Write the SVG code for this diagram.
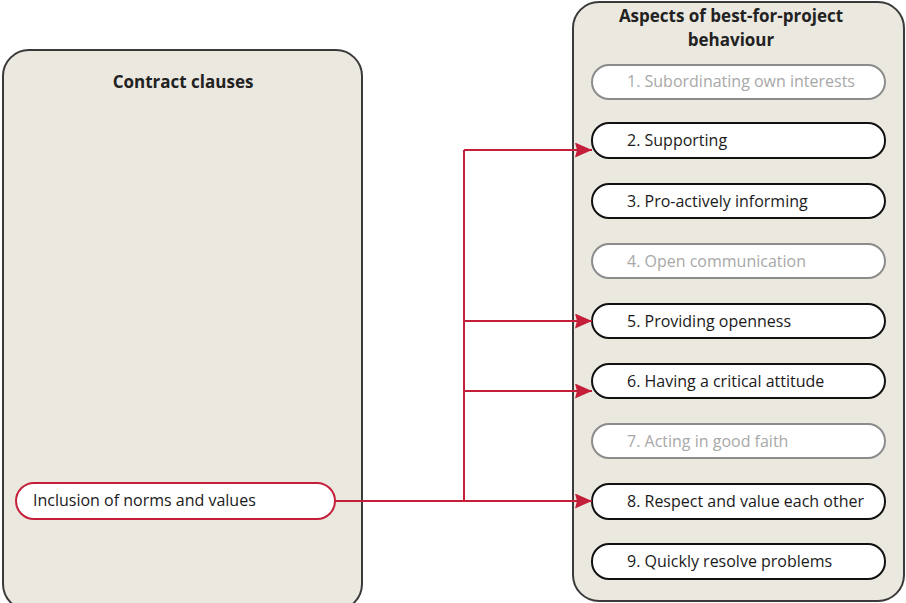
<svg xmlns="http://www.w3.org/2000/svg" width="906" height="603" viewBox="0 0 906 603">
<style>
.panel{fill:#ebe8e0;stroke:#3a3a3a;stroke-width:2}
.item{fill:#fff;stroke:#111;stroke-width:2}
.dim{fill:#fff;stroke:#8c8c8c;stroke-width:2}
.src{fill:#fff;stroke:#c41e3a;stroke-width:2}
.t{font-family:"Open Sans","Liberation Sans",sans-serif;font-size:16px;fill:#1a1a1a;dominant-baseline:central}
.tg{fill:#a8a8a8}
.h{font-family:"Open Sans","Liberation Sans",sans-serif;font-size:17px;font-weight:bold;fill:#222;text-anchor:middle}
.c{fill:none;stroke:#c41e3a;stroke-width:2}
</style>
<defs>
<marker id="ah" viewBox="0 0 17 15" refX="17" refY="7.5" markerWidth="17" markerHeight="15" markerUnits="userSpaceOnUse" orient="auto">
<path d="M0,0 L17,7.5 L0,15 L2,7.5 Z" fill="#c41e3a"/>
</marker>
</defs>
<g id="contract-clauses">
<rect class="panel" x="3" y="50" width="359" height="560" rx="26"/>
<text class="h" x="183" y="88">Contract clauses</text>
</g>
<g id="aspects">
<rect class="panel" x="573" y="2" width="331" height="599" rx="26"/>
<text class="h" x="731" y="22">Aspects of best-for-project</text>
<text class="h" x="731" y="46">behaviour</text>
</g>
<g id="inclusion">
<rect class="src" x="16" y="483" width="319" height="36" rx="18"/>
<text class="t" x="33" y="500">Inclusion of norms and values</text>
</g>
<g id="a1"><rect class="dim" x="592" y="65" width="293" height="34" rx="17"/><text class="t tg" x="627" y="81">1. Subordinating own interests</text></g>
<g id="a2"><rect class="item" x="592" y="123" width="293" height="35" rx="17"/><text class="t" x="627" y="140">2. Supporting</text></g>
<g id="a3"><rect class="item" x="592" y="184" width="293" height="34" rx="17"/><text class="t" x="627" y="201">3. Pro-actively informing</text></g>
<g id="a4"><rect class="dim" x="592" y="244" width="293" height="34" rx="17"/><text class="t tg" x="627" y="261">4. Open communication</text></g>
<g id="a5"><rect class="item" x="592" y="304" width="293" height="34" rx="17"/><text class="t" x="627" y="321">5. Providing openness</text></g>
<g id="a6"><rect class="item" x="592" y="364" width="293" height="34" rx="17"/><text class="t" x="627" y="381">6. Having a critical attitude</text></g>
<g id="a7"><rect class="dim" x="592" y="424" width="293" height="34" rx="17"/><text class="t tg" x="627" y="441">7. Acting in good faith</text></g>
<g id="a8"><rect class="item" x="592" y="484" width="293" height="35" rx="17"/><text class="t" x="627" y="501">8. Respect and value each other</text></g>
<g id="a9"><rect class="item" x="592" y="544" width="293" height="35" rx="17"/><text class="t" x="627" y="561">9. Quickly resolve problems</text></g>
<g id="connectors">
<path class="c" d="M335,501 L592,501" marker-end="url(#ah)"/>
<path class="c" d="M464,501 L464,150"/>
<path class="c" d="M464,150 L592,150" marker-end="url(#ah)"/>
<path class="c" d="M464,321 L592,321" marker-end="url(#ah)"/>
<path class="c" d="M464,391 L592,391" marker-end="url(#ah)"/>
</g>
</svg>
